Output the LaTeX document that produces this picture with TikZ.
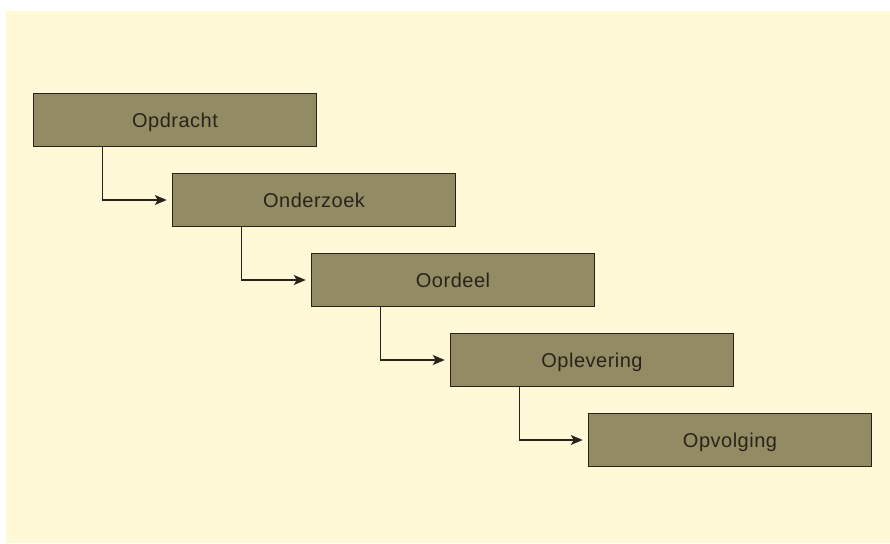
\documentclass[tikz,border=0pt]{standalone}
\usepackage{fontspec}
\setmainfont{Liberation Sans}[LetterSpace=2.5]
\usetikzlibrary{arrows.meta}
\definecolor{paper}{HTML}{FFF9D8}
\definecolor{boxfill}{HTML}{938B64}
\definecolor{ink}{HTML}{2B231A}
\begin{document}
\begin{tikzpicture}[x=1pt,y=-1pt,
  stage/.style={draw=ink, line width=1.5pt, fill=boxfill,
    minimum width=283pt, minimum height=53pt, inner sep=0pt,
    text height=14.4pt, text depth=0pt,
    font=\fontsize{20}{24}\selectfont, text=ink},
  flow/.style={draw=ink, line width=1.1pt,
    -{Stealth[length=12pt,width=10pt,inset=3pt]}, shorten >=5pt}]
  % page and panel
  \fill[white] (0,0) rectangle (890,543);
  \fill[paper] (6,11) rectangle (890,543);
  \useasboundingbox (0,0) rectangle (890,543);
  % phases, stepping down to the right
  \node[stage] (s1) at (175,120) {Opdracht};
  \node[stage] (s2) at (314,200) {Onderzoek};
  \node[stage] (s3) at (453,280) {Oordeel};
  \node[stage] (s4) at (592,360) {Oplevering};
  \node[stage] (s5) at (730,440) {Opvolging};
  % elbow connectors
  \foreach \a/\b in {s1/s2,s2/s3,s3/s4,s4/s5}
    \draw[flow] ([xshift=70pt]\a.south west) |- (\b.west);
\end{tikzpicture}
\end{document}
